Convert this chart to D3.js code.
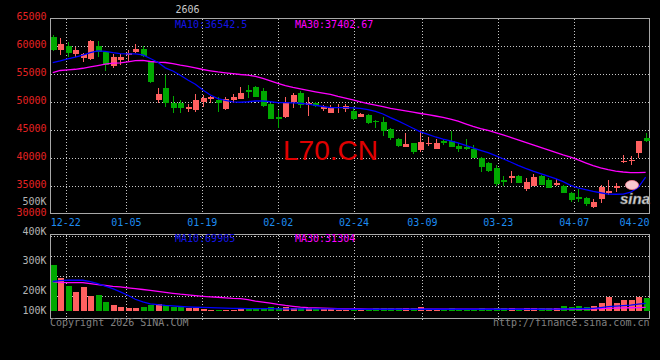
<!DOCTYPE html>
<html><head><meta charset="utf-8">
<script src="https://cdn.jsdelivr.net/npm/d3@7"></script>
<style>html,body{margin:0;padding:0;background:#000;} svg{display:block;}</style>
</head><body>
<svg id="chart" width="660" height="360"></svg>
<script>
const dates = ["12-18","12-19","12-22","12-23","12-24","12-25","12-26","12-29","12-30","12-31",
"01-05","01-06","01-07","01-08","01-09","01-12","01-13","01-14","01-15","01-16",
"01-19","01-20","01-21","01-22","01-23","01-26","01-27","01-28","01-29","01-30",
"02-02","02-03","02-04","02-05","02-06","02-09","02-10","02-11","02-12","02-13",
"02-24","02-25","02-26","02-27","03-02","03-03","03-04","03-05","03-06","03-09",
"03-10","03-11","03-12","03-13","03-16","03-17","03-18","03-19","03-20","03-23",
"03-24","03-25","03-26","03-27","03-30","03-31","04-01","04-02","04-03","04-07",
"04-08","04-09","04-10","04-13","04-14","04-15","04-16","04-17","04-20","04-21"];
const open = [61700,59320,60040,58610,57840,57660,60040,59020,56460,57530,
58370,59020,59450,57230,50370,52460,49880,49880,48700,48580,
50060,50490,50370,48810,50370,50550,52160,52750,52030,49650,
47270,47270,49960,51670,49470,49780,48700,48090,48990,48700,
48450,47380,47680,46660,46480,45120,43380,42000,42610,41410,
42430,41590,43080,42970,42130,42000,41540,39930,39030,38140,
36040,36450,36760,34370,35020,36760,36040,35140,34960,33660,
32940,32870,31260,32580,33760,34550,39260,39440,40930,43620];
const high = [62010,61420,60810,59810,58840,61110,60930,59200,58610,58610,
59320,60400,60040,57410,52460,54850,51080,50370,49650,51440,
51260,51080,50850,50900,51440,52750,53050,52870,52520,49780,
48580,50960,51570,52030,50850,50060,49470,49470,49600,49600,
49170,47990,47810,46790,47380,45300,43510,44400,42720,44990,
43800,43330,43330,44870,42610,43330,42310,40110,39320,38730,
36760,37650,36930,36340,37110,36930,36340,36160,35140,33940,
34370,33050,32580,35140,36040,35450,40520,40340,43020,44510];
const low = [59140,58430,58020,58120,57120,57530,58020,55620,56050,56640,
57410,58730,58120,53470,49880,49060,48090,47990,48270,48270,
49110,49780,48270,48580,49830,50550,50670,50820,49170,46910,
45300,47200,48880,48990,47500,49170,48450,47990,48090,48270,
46790,47270,46070,45300,43920,43200,41900,42000,40640,41110,
42130,41590,42310,42000,41110,41410,40030,37530,37530,34960,
34960,35560,35450,34120,34960,35140,34550,34960,33660,32150,
32150,31380,30970,31870,33350,33940,39030,38730,39930,42900];
const close = [59320,60400,58840,59320,58610,60930,59020,56640,58120,58120,
58840,59450,58250,53650,51440,49880,48990,48990,49060,50370,
50670,50850,49880,50490,50960,51570,51850,50960,49350,46960,
47020,49960,51260,49470,49880,49350,49170,49170,49170,49350,
46910,47810,46190,46480,44870,43620,42130,42430,41000,42900,
42720,42720,42720,42000,41540,41590,40030,38420,37650,35320,
35730,36760,35560,35730,36520,35140,34660,35560,33760,32460,
32640,31690,32150,34730,34120,34960,39500,39620,43020,43080];
const ma10 = [57080,57390,57750,58030,58410,58840,59180,59070,58840,58660,
58610,58610,58430,57800,57120,56130,55560,54790,53950,53200,
52160,51260,50600,50280,50030,49960,50050,50190,50190,50050,
49900,49880,49850,49780,49630,49420,49200,48990,48990,48990,
48950,48860,48630,48310,47860,47220,46620,45980,45300,44650,
44210,43740,43360,43040,42700,42250,41810,41360,40930,40410,
39840,39260,38670,38130,37630,37190,36720,36270,35730,35090,
34640,34300,34000,33750,33510,33480,33510,33850,34680,36542.5];
const ma30 = [55260,55650,55780,55870,56050,56280,56530,56780,56960,57030,
57210,57420,57480,57260,57140,57080,56870,56600,56370,56120,
55830,55600,55400,55240,55100,54930,54830,54590,54250,53790,
53360,52960,52640,52370,52100,51840,51590,51370,51010,50690,
50370,50030,49720,49440,49170,48850,48650,48420,48180,47950,
47730,47500,47270,46930,46570,46100,45640,45250,44920,44530,
44130,43690,43240,42790,42340,41900,41450,41000,40550,40140,
39640,39100,38620,38210,37880,37630,37470,37360,37350,37402.67];
const volume = [435000,314000,235000,181000,229000,143000,150000,83000,54000,38000,
29000,29000,35000,54000,64000,54000,38000,32000,29000,23000,
16000,7000,7000,7000,7000,23000,23000,16000,23000,32000,
23000,35000,23000,23000,23000,16000,16000,26000,11000,11000,
11000,11000,11000,26000,26000,26000,26000,26000,26000,38000,
13000,13000,11000,26000,11000,11000,11000,26000,13000,26000,
26000,26000,13000,26000,26000,26000,26000,26000,45000,38000,
45000,35000,45000,76000,133000,76000,102000,102000,133000,124000];
const volMa10 = [278000,287000,290000,290000,290000,276000,257000,235000,210000,180000,
147000,109000,83000,66000,57000,50000,45000,40000,36000,33000,
31000,29000,27000,25000,23000,21000,20000,19000,19000,19000,
18000,18000,18000,18000,18000,17000,17000,17000,16000,15000,
14000,14000,14000,14000,14000,14000,14000,14000,14000,14000,
14000,14000,14000,14000,14000,14000,14000,14000,14000,14000,
14000,14000,14000,14000,14000,14000,15000,15000,16000,17000,
19000,21000,23000,30000,38000,44000,49000,54000,62000,69905];
const volMa30 = [276000,269000,267000,267000,267000,257000,248000,240000,232000,226000,
218000,210000,202000,194000,185000,175000,166000,157000,150000,143000,
137000,132000,128000,123000,118000,115000,105000,92000,82000,72000,
60000,50000,42000,35000,30000,27000,24000,21000,19000,18000,
17000,16000,15000,15000,15000,15000,15000,15000,15000,15000,
15000,15000,15000,15000,15000,15000,15000,15000,15000,15000,
15000,15000,15000,15000,15000,15000,15000,15000,15000,15000,
15000,16000,18000,20000,22000,24000,26000,28000,30000,31304];
const priceTicks = [65000,60000,55000,50000,45000,40000,35000,30000];
const volTickLabels = [500000,400000,300000,200000,100000];
const volTickText = ["500K","400K","300K","200K","100K"];
const dateTicks = ["12-22","01-05","01-19","02-02","02-24","03-09","03-23","04-07"];
const lastDateLabel = "04-20";
const titleText = "2606";
const watermark = "L70.CN";
const legendMain = ["MA10:36542.5","MA30:37402.67"];
const legendVol = ["MA10:69905","MA30:31304"];

const W = 660, H = 360;
const L = 50.5, R = 649.5, T = 18.5, B = 213.5, VT = 234.5, VB = 318.5;
const mono = "'DejaVu Sans Mono', monospace";
const RED = "#ff6060", GREEN = "#00a800";
const BORDER = "#a8a8a8", GRID = "#c8c8c8";

const svg = d3.select("#chart");
svg.append("rect").attr("width", W).attr("height", H).attr("fill", "#000");

const x = d3.scaleBand().domain(dates).range([49, 649.4]).padding(0);
const cx = d => x(d) + x.bandwidth() / 2;
const gx = d3.scaleLinear().domain([0, dates.length - 1]).range([50.5, 650.1]);
const y = d3.scaleLinear().domain([30000, 65000]).range([213.7, 18.3]);
const yv = d3.scaleLinear().domain([0, 720000]).range([310.7, 235.1]);
const yvLabel = d3.scaleLinear().domain([200000, 500000]).range([294.3, 204.6]);

const g = svg.append("g").attr("shape-rendering", "crispEdges");
const px = v => Math.round(v) + 0.5;

// main grid
priceTicks.slice(1, -1).forEach(p => {
  g.append("line").attr("x1", L).attr("x2", R).attr("y1", px(y(p))).attr("y2", px(y(p)))
    .attr("stroke", GRID).attr("stroke-dasharray", "1,2");
});
dateTicks.forEach(d => {
  const xx = px(gx(dates.indexOf(d)));
  g.append("line").attr("x1", xx).attr("x2", xx).attr("y1", T).attr("y2", B)
    .attr("stroke", GRID).attr("stroke-dasharray", "1,2");
  g.append("line").attr("x1", xx).attr("x2", xx).attr("y1", VT).attr("y2", VB + 3)
    .attr("stroke", GRID).attr("stroke-dasharray", "1,2");
});
// volume grid
d3.range(1, 4).map(k => VT + 1 + k * 20).concat([VT + 1]).forEach(yy => {
  g.append("line").attr("x1", L).attr("x2", R).attr("y1", px(yy)).attr("y2", px(yy))
    .attr("stroke", GRID).attr("stroke-dasharray", "1,2");
});

// borders
g.append("path").attr("d", `M${L},${B}V${T}H${R}V${B}`).attr("fill", "none").attr("stroke", BORDER);
g.append("line").attr("x1", L).attr("x2", R).attr("y1", B).attr("y2", B).attr("stroke", BORDER).attr("stroke-width", 1.5);
g.append("rect").attr("x", L).attr("y", VT).attr("width", R - L).attr("height", VB - VT)
  .attr("fill", "none").attr("stroke", BORDER);

// watermark
svg.append("text").attr("x", 283).attr("y", 159.7).text(watermark)
  .attr("font-family", "'Liberation Sans', Arial, sans-serif").attr("font-size", 28)
  .attr("fill", "#e00000");

// candles
dates.forEach((d, i) => {
  const c = close[i] >= open[i] ? RED : GREEN;
  const xc = Math.round(cx(d));
  g.append("line").attr("x1", xc + 0.5).attr("x2", xc + 0.5)
    .attr("y1", y(high[i])).attr("y2", y(low[i])).attr("stroke", c);
  const top = y(Math.max(open[i], close[i])), bot = y(Math.min(open[i], close[i]));
  g.append("rect").attr("x", xc - 2.5).attr("width", 6).attr("y", Math.round(top))
    .attr("height", Math.max(1, Math.round(bot) - Math.round(top))).attr("fill", c);
});

// MA lines
const lineMain = arr => d3.line().x((v, i) => cx(dates[i])).y(v => y(v))(arr);
svg.append("path").attr("d", lineMain(ma30)).attr("fill", "none").attr("stroke", "#ff00ff").attr("stroke-width", 1.3);
svg.append("path").attr("d", lineMain(ma10)).attr("fill", "none").attr("stroke", "#0000ff").attr("stroke-width", 1.3);

// volume bars
dates.forEach((d, i) => {
  const c = close[i] >= open[i] ? RED : GREEN;
  const xc = Math.round(cx(d));
  const t = Math.round(yv(volume[i])), b = Math.round(yv(0));
  g.append("rect").attr("x", xc - 2.5).attr("width", 6).attr("y", t).attr("height", Math.max(1, b - t)).attr("fill", c);
});
const lineVol = arr => d3.line().x((v, i) => cx(dates[i])).y(v => yv(v))(arr);
svg.append("path").attr("d", lineVol(volMa30)).attr("fill", "none").attr("stroke", "#ff00ff").attr("stroke-width", 1.3);
svg.append("path").attr("d", lineVol(volMa10)).attr("fill", "none").attr("stroke", "#0000ff").attr("stroke-width", 1.3);

// text
const txt = (s, xx, yy, fill, anchor) => svg.append("text").attr("x", xx).attr("y", yy).text(s)
  .attr("font-family", mono).attr("font-size", 10).attr("fill", fill).attr("text-anchor", anchor || "start");

priceTicks.forEach(p => txt(String(p), 46.5, y(p) + 2, "#e52222", "end"));
volTickLabels.forEach((v, k) => txt(volTickText[k], 46.5, Math.min(yvLabel(v), 314.3), "#b4b4b4", "end"));
dateTicks.forEach(d => txt(d, gx(dates.indexOf(d)), 225.5, "#1e8cf0", "middle"));
txt(lastDateLabel, 649.5, 225.5, "#1e8cf0", "end");

txt(titleText, 187.5, 13, "#c8c8c8", "middle");
txt(legendMain[0], 175, 27.5, "#1414e6");
txt(legendMain[1], 295, 27.5, "#ff00ff");
txt(legendVol[0], 175, 241.5, "#1414e6");
txt(legendVol[1], 295, 241.5, "#ff00ff");
txt("Copyright 2026 SINA.COM", 50, 325.8, "#808080");
txt("http://finance.sina.com.cn", 649.5, 325.8, "#808080", "end");

// sina logo
svg.append("ellipse").attr("cx", 632).attr("cy", 185).attr("rx", 6.5).attr("ry", 4.5)
  .attr("fill", "#f6c8d0").attr("stroke", "#ff8898").attr("stroke-width", 0.8);
svg.append("text").attr("x", 620).attr("y", 204).text("sina")
  .attr("font-family", "'Liberation Sans', Arial, sans-serif").attr("font-size", 15)
  .attr("font-style", "italic").attr("font-weight", "bold")
  .attr("fill", "#d8d8d8").attr("stroke", "#707070").attr("stroke-width", 0.5);
</script>
</body></html>
